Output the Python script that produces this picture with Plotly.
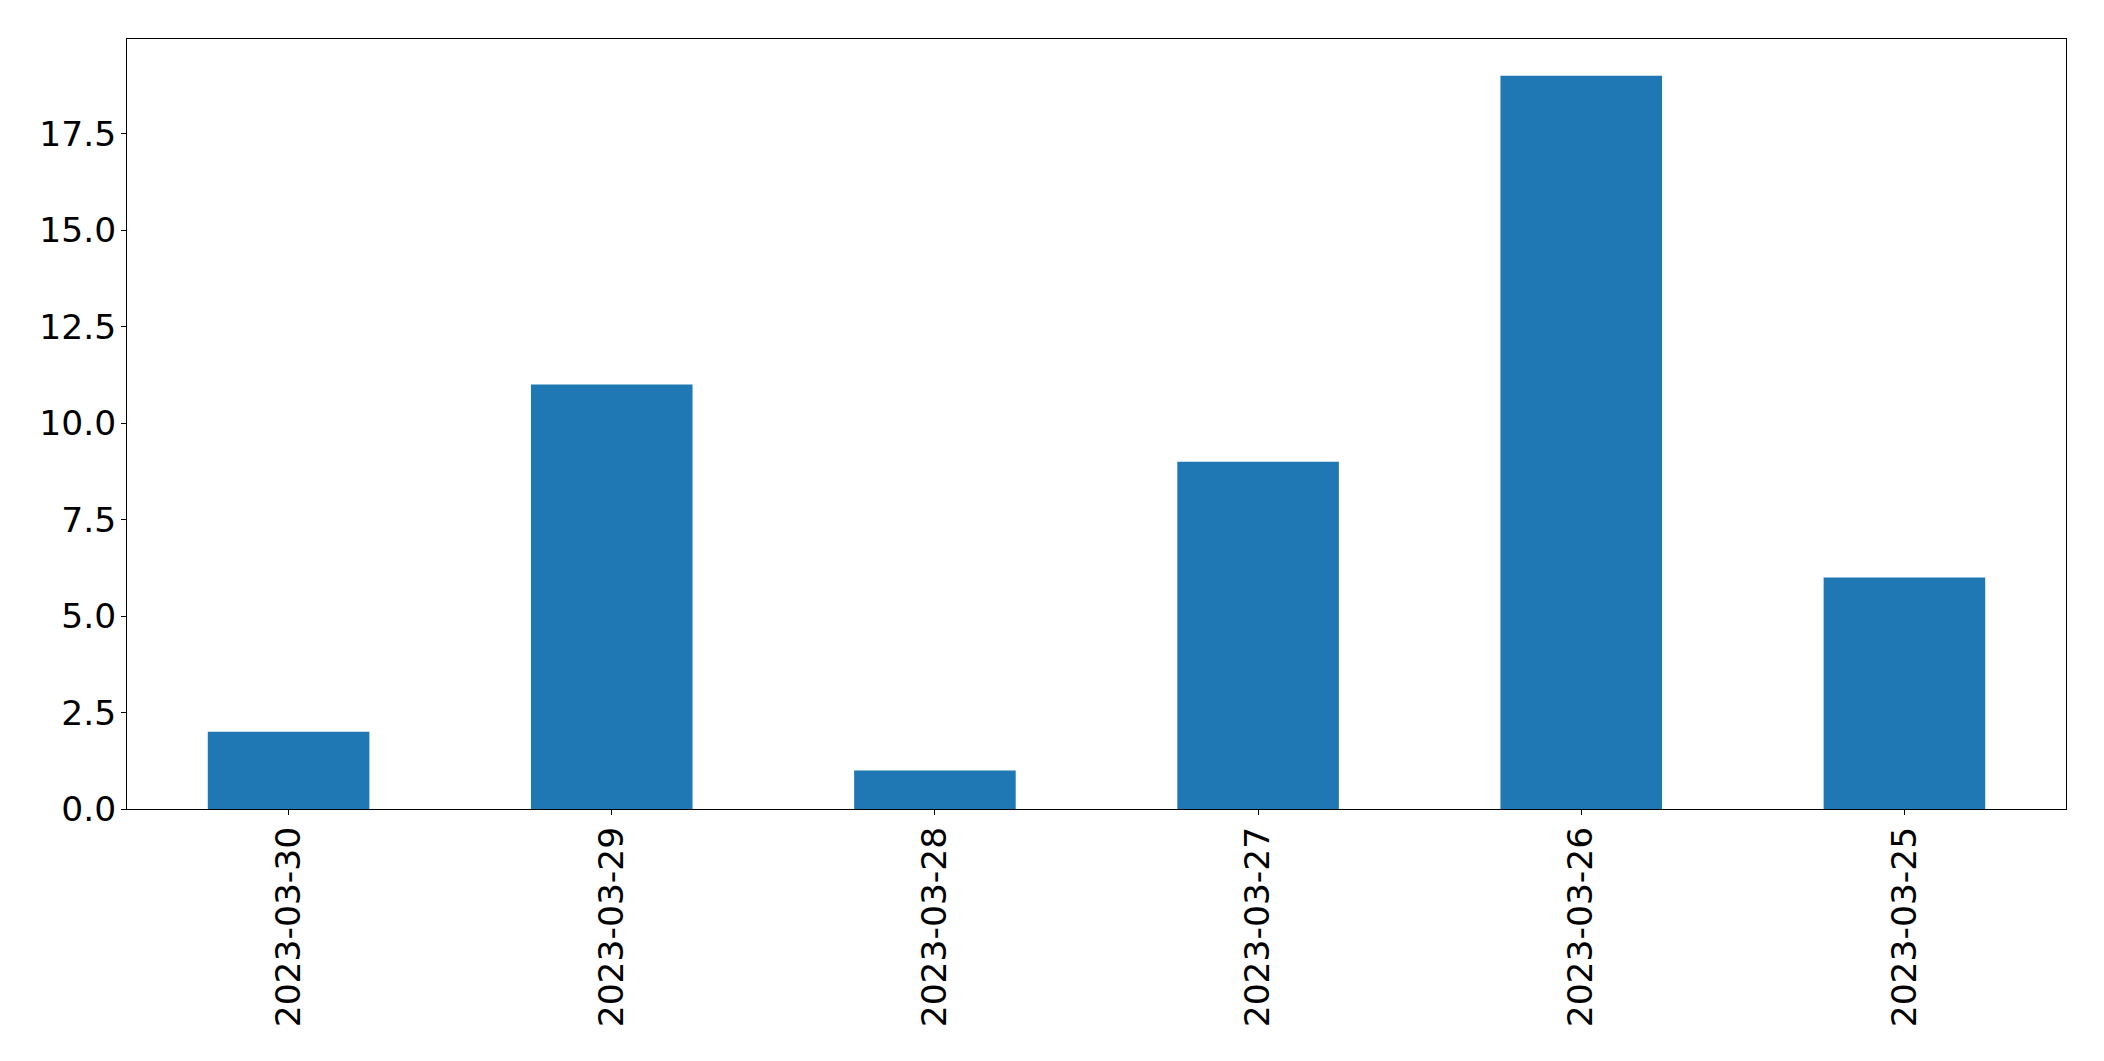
import plotly.graph_objects as go

categories = ["2023-03-30", "2023-03-29", "2023-03-28", "2023-03-27", "2023-03-26", "2023-03-25"]
values = [2, 11, 1, 9, 19, 6]
y_ticks = [0.0, 2.5, 5.0, 7.5, 10.0, 12.5, 15.0, 17.5]
y_ticktext = [f"{v:.1f}" for v in y_ticks]

fig = go.Figure(go.Bar(x=categories, y=values, marker_color="#1f77b4", width=0.5,
                       marker_line_width=0))

axis_common = dict(showline=True, linecolor="black", linewidth=1, mirror=True,
                   ticks="outside", ticklen=5, tickwidth=1, tickcolor="black",
                   showgrid=False, zeroline=False,
                   tickfont=dict(family="DejaVu Sans", size=34.5, color="black"))

fig.update_layout(
    width=2088, height=1045,
    margin=dict(l=119, r=30, t=31, b=244, pad=0),
    plot_bgcolor="white", paper_bgcolor="white",
    showlegend=False,
    xaxis=dict(type="category", range=[-0.5, 5.5], tickangle=-90, ticklabelstandoff=-2, **axis_common),
    yaxis=dict(range=[0, 19.95], tickvals=y_ticks, ticktext=y_ticktext, ticklabelstandoff=-2, **axis_common),
)

fig.write_html("out.html")
